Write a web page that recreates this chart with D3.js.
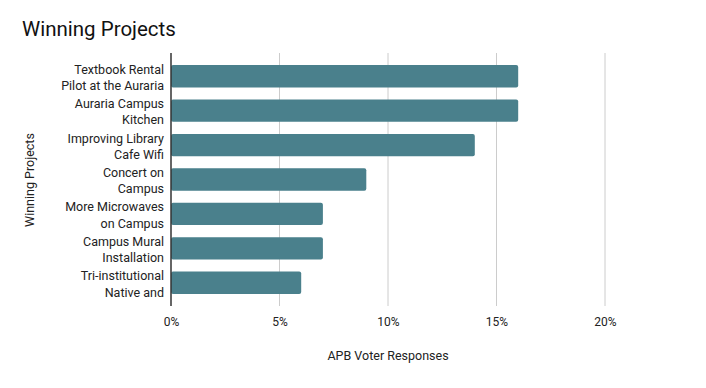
<!DOCTYPE html>
<html>
<head>
<meta charset="utf-8">
<script src="https://cdn.jsdelivr.net/npm/d3@7"></script>
<style>
  body { margin: 0; background: #fff; }
  svg { font-family: Roboto, "Noto Sans", sans-serif; }
</style>
</head>
<body>
<svg id="chart" width="706" height="388"></svg>
<script>
// data
const projects = [
  ['Textbook Rental', 'Pilot at the Auraria'],
  ['Auraria Campus', 'Kitchen'],
  ['Improving Library', 'Cafe Wifi'],
  ['Concert on', 'Campus'],
  ['More Microwaves', 'on Campus'],
  ['Campus Mural', 'Installation'],
  ['Tri-institutional', 'Native and'],
];
const responses = [16, 16, 14, 9, 7, 7, 6];
const xTicks = [0, 5, 10, 15, 20];

const svg = d3.select('#chart');
const plot = { left: 171, right: 605, top: 53, bottom: 306 };

const x = d3.scaleLinear().domain([0, 20]).range([plot.left, plot.right]);
const y = d3.scaleBand().domain(d3.range(projects.length)).range([plot.top, plot.bottom]).padding(0.35);

svg.append('text')
  .attr('x', 22).attr('y', 36)
  .attr('font-size', 20.5).attr('fill', '#111')
  .text('Winning Projects');

// gridlines
svg.append('g').selectAll('line')
  .data(xTicks.filter((t) => t > 0))
  .join('line')
  .attr('x1', (d) => x(d)).attr('x2', (d) => x(d))
  .attr('y1', plot.top).attr('y2', plot.bottom)
  .attr('stroke', '#ccc').attr('stroke-width', 1);

// x axis labels
const xAxis = svg.append('g')
  .attr('transform', `translate(0,${plot.bottom})`)
  .call(d3.axisBottom(x).tickValues(xTicks).tickSize(0).tickPadding(11).tickFormat((d) => `${d}%`));
xAxis.select('.domain').remove();
xAxis.selectAll('.tick text').attr('font-size', 12).attr('fill', '#222').attr('font-family', 'Roboto');

// bars
svg.append('g').selectAll('rect')
  .data(responses)
  .join('rect')
  .attr('x', x(0))
  .attr('y', (d, i) => y(i))
  .attr('width', (d) => x(d) - x(0))
  .attr('height', y.bandwidth())
  .attr('rx', 2)
  .attr('fill', '#4a808c');

// y axis line
svg.append('line')
  .attr('x1', plot.left).attr('x2', plot.left)
  .attr('y1', plot.top).attr('y2', plot.bottom)
  .attr('stroke', '#333').attr('stroke-width', 1.5);

// category labels
const labels = svg.append('g').selectAll('text')
  .data(projects)
  .join('text')
  .attr('x', plot.left - 7)
  .attr('y', (d, i) => y(i) + y.bandwidth() / 2)
  .attr('text-anchor', 'end')
  .attr('font-size', 12.5)
  .attr('fill', '#222');
labels.each(function (d) {
  const t = d3.select(this);
  t.append('tspan').attr('x', plot.left - 7).attr('dy', '-0.2em').text(d[0]);
  t.append('tspan').attr('x', plot.left - 7).attr('dy', '1.3em').text(d[1]);
});

// axis titles
svg.append('text')
  .attr('x', (plot.left + plot.right) / 2).attr('y', 360)
  .attr('text-anchor', 'middle')
  .attr('font-size', 12.5).attr('fill', '#222')
  .text('APB Voter Responses');

svg.append('text')
  .attr('transform', `translate(34,180) rotate(-90)`)
  .attr('text-anchor', 'middle')
  .attr('font-size', 12.5).attr('fill', '#222')
  .text('Winning Projects');
</script>
</body>
</html>
